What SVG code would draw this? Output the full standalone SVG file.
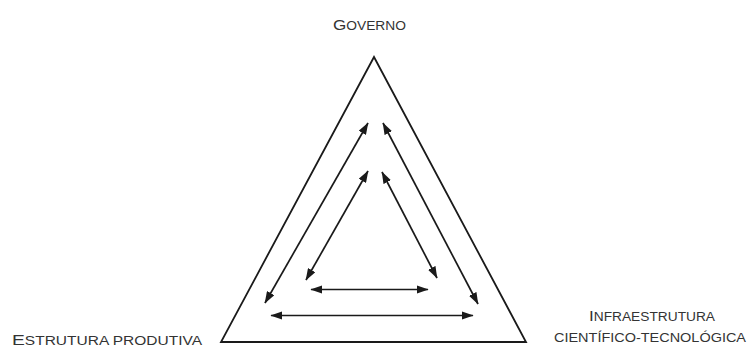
<svg xmlns="http://www.w3.org/2000/svg" width="748" height="347" viewBox="0 0 748 347">
<style>
.lbl{font-family:"Liberation Sans",Arial,sans-serif;font-size:12.5px;fill:#333}
.big{font-size:15.5px}
.tri{fill:none;stroke:#1a1a1a;stroke-width:1.8;stroke-linejoin:miter}
.arr{stroke:#1a1a1a;stroke-width:1.7;fill:none;marker-start:url(#ah);marker-end:url(#ah)}
</style>
<defs>
<marker id="ah" viewBox="0 0 10 7" refX="9.5" refY="3.5" markerWidth="12" markerHeight="8.4" markerUnits="userSpaceOnUse" orient="auto-start-reverse">
<path d="M0,0 L10,3.5 L0,7 z" fill="#1a1a1a"/>
</marker>
</defs>
<rect width="748" height="347" fill="#fff"/>
<g id="triangle">
<polygon class="tri" points="374,57 221,342 526,342"/>
</g>
<g id="governo">
<text class="lbl" x="333" y="30" textLength="73" lengthAdjust="spacingAndGlyphs"><tspan class="big">G</tspan>OVERNO</text>
</g>
<g id="estrutura-produtiva">
<text class="lbl" x="12" y="345" textLength="190" lengthAdjust="spacingAndGlyphs"><tspan class="big">E</tspan>STRUTURA PRODUTIVA</text>
</g>
<g id="infraestrutura">
<text class="lbl" x="589" y="321" textLength="126" lengthAdjust="spacingAndGlyphs"><tspan class="big">I</tspan>NFRAESTRUTURA</text>
<text class="lbl" x="554" y="342" textLength="192" lengthAdjust="spacingAndGlyphs">CIENTÍFICO-TECNOLÓGICA</text>
</g>
<g id="connectors">
<line class="arr" x1="265" y1="303" x2="368" y2="123"/>
<line class="arr" x1="383" y1="123" x2="478" y2="304"/>
<line class="arr" x1="306" y1="280" x2="368" y2="171"/>
<line class="arr" x1="382" y1="172" x2="437" y2="278"/>
<line class="arr" x1="311" y1="289.5" x2="428" y2="289.5"/>
<line class="arr" x1="271" y1="315.5" x2="473" y2="315.5"/>
</g>
</svg>
